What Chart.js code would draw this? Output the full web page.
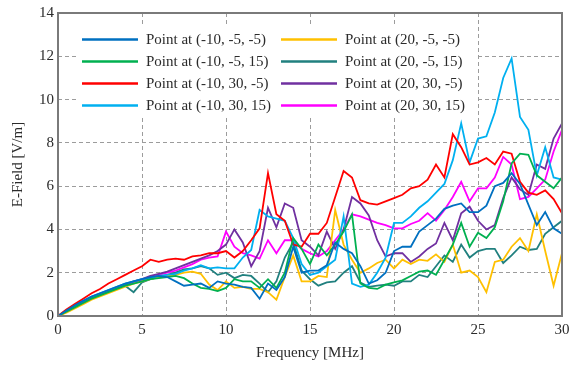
<!DOCTYPE html>
<html>
<head>
<meta charset="utf-8">
<script src="https://cdn.jsdelivr.net/npm/chart.js@4.4.0/dist/chart.umd.min.js"></script>
<style>
  html, body { margin: 0; padding: 0; background: #fff; }
  #wrap { width: 576px; height: 366px; }
</style>
</head>
<body>
<div id="wrap"><canvas id="chart" width="576" height="366"></canvas></div>
<script>
(function () {
    "use strict";

    // frequency grid, MHz
    const freqs = [0, 0.5, 1, 1.5, 2, 2.5, 3, 3.5, 4, 4.5, 5, 5.5, 6, 6.5, 7, 7.5, 8, 8.5, 9, 9.5,
        10, 10.5, 11, 11.5, 12, 12.5, 13, 13.5, 14, 14.5, 15, 15.5, 16, 16.5, 17, 17.5, 18, 18.5, 19, 19.5,
        20, 20.5, 21, 21.5, 22, 22.5, 23, 23.5, 24, 24.5, 25, 25.5, 26, 26.5, 27, 27.5, 28, 28.5, 29, 29.5, 30];

    const xTicks = [0, 5, 10, 15, 20, 25, 30];
    const yTicks = [0, 2, 4, 6, 8, 10, 12, 14];

    // E-field values [V/m] per point
    const p1 = [0, 0.25, 0.5, 0.7, 0.9, 1.05, 1.2, 1.35, 1.5, 1.6, 1.7, 1.8, 1.85, 1.8, 1.6, 1.4, 1.45, 1.5, 1.3, 1.6,
        1.5, 1.45, 1.35, 1.3, 0.8, 1.5, 1.2, 1.8, 3.2, 2.0, 2.1, 2.1, 2.35, 3.4, 3.1, 2.9, 2.3, 1.5, 1.65, 2.0,
        3.0, 3.2, 3.2, 3.9, 4.2, 4.5, 4.95, 5.1, 5.2, 4.8, 4.8, 5.1, 6.0, 6.15, 6.6, 6.1, 5.15, 4.2, 4.8, 4.05, 3.8];
    const p2 = [0, 0.2, 0.4, 0.6, 0.8, 0.95, 1.1, 1.25, 1.4, 1.5, 1.6, 1.7, 1.75, 1.8, 1.85, 1.75, 1.5, 1.3, 1.25, 1.15,
        1.3, 1.7, 1.6, 1.6, 1.3, 1.7, 1.3, 2.0, 3.6, 3.1, 2.4, 3.3, 2.8, 3.3, 3.9, 4.7, 1.5, 1.3, 1.25, 1.45,
        1.55, 1.65, 1.85, 2.05, 2.1, 1.9, 2.6, 3.3, 4.3, 3.2, 3.85, 3.6, 4.1, 5.3, 7.05, 7.5, 7.45, 6.5, 6.2, 5.9, 6.4];
    const p3 = [0, 0.3, 0.55, 0.8, 1.05, 1.25, 1.5, 1.7, 1.9, 2.1, 2.3, 2.6, 2.5, 2.6, 2.65, 2.6, 2.75, 2.8, 2.9, 2.9,
        3.0, 2.7, 3.0, 3.5, 4.05, 6.6, 4.7, 4.4, 3.3, 3.2, 3.8, 3.8, 4.3, 5.5, 6.7, 6.4, 5.35, 5.2, 5.15, 5.3,
        5.45, 5.6, 5.9, 6.0, 6.3, 7.0, 6.4, 8.4, 7.8, 7.0, 7.1, 7.3, 7.0, 7.6, 7.5, 6.2, 5.7, 5.6, 5.8, 5.4, 4.75];
    const p4 = [0, 0.25, 0.5, 0.7, 0.9, 1.05, 1.2, 1.35, 1.5, 1.6, 1.7, 1.75, 1.85, 1.9, 1.95, 2.1, 2.2, 2.35, 2.2, 2.25,
        2.2, 2.2, 2.7, 3.05, 4.9, 4.6, 4.5, 4.4, 3.6, 2.4, 1.9, 2.0, 2.3, 2.6, 4.6, 1.5, 1.35, 1.45, 2.0, 2.7,
        4.3, 4.3, 4.6, 5.0, 5.3, 5.7, 6.1, 7.2, 8.9, 7.1, 8.2, 8.3, 9.4, 11.0, 11.9, 9.2, 8.6, 6.5, 7.8, 6.4, 6.3];
    const p5 = [0, 0.15, 0.35, 0.55, 0.75, 0.9, 1.05, 1.2, 1.35, 1.5, 1.6, 1.7, 1.8, 1.85, 1.9, 2.0, 2.05, 1.95, 1.45, 1.2,
        1.6, 1.3, 1.35, 1.25, 1.25, 1.1, 0.75, 1.8, 2.8, 1.6, 1.6, 1.85, 1.8, 4.9, 3.3, 2.6, 2.0, 2.2, 2.45, 2.6,
        2.2, 2.6, 2.4, 2.6, 2.55, 2.85, 2.5, 3.3, 2.0, 2.1, 1.8, 1.1, 2.5, 2.6, 3.2, 3.6, 3.0, 4.7, 3.0, 1.4, 2.9];
    const p6 = [0, 0.2, 0.4, 0.6, 0.8, 0.95, 1.1, 1.25, 1.4, 1.1, 1.55, 1.7, 1.8, 1.9, 2.0, 2.15, 2.2, 2.3, 2.2, 1.9,
        2.0, 1.75, 1.9, 1.85, 1.5, 1.1, 1.6, 2.7, 3.4, 2.1, 1.7, 1.4, 1.55, 1.6, 2.0, 2.3, 1.55, 1.35, 1.4, 1.45,
        1.4, 1.6, 1.6, 1.9, 1.8, 2.3, 2.8, 2.5, 3.3, 2.7, 3.0, 3.1, 3.1, 2.45, 2.8, 3.2, 3.05, 3.1, 3.8, 4.1, 4.4];
    const p7 = [0, 0.2, 0.45, 0.65, 0.85, 1.0, 1.15, 1.3, 1.45, 1.6, 1.7, 1.85, 1.95, 2.05, 2.2, 2.35, 2.5, 2.65, 2.8, 3.0,
        3.3, 4.0, 3.4, 2.3, 3.0, 5.0, 4.1, 5.2, 5.0, 3.5, 3.2, 2.8, 3.9, 3.1, 4.0, 5.5, 5.2, 4.65, 3.5, 2.75,
        2.9, 2.9, 2.5, 2.75, 3.1, 3.35, 4.3, 3.5, 4.75, 5.05, 4.4, 4.0, 4.2, 5.45, 6.4, 5.85, 5.6, 7.0, 6.8, 8.2, 8.9];
    const p8 = [0, 0.2, 0.45, 0.65, 0.85, 1.0, 1.15, 1.3, 1.45, 1.55, 1.65, 1.8, 1.9, 2.0, 2.1, 2.25, 2.4, 2.6, 2.7, 2.75,
        3.9, 3.2, 2.9, 2.8, 2.65, 3.5, 2.9, 3.5, 3.5, 3.1, 2.9, 2.75, 3.0, 3.5, 4.0, 4.7, 4.6, 4.45, 4.3, 4.2,
        4.05, 4.05, 4.25, 4.4, 4.75, 4.4, 4.9, 5.5, 6.2, 5.3, 5.9, 5.9, 6.4, 7.35, 7.0, 5.4, 5.5, 5.9, 6.3, 7.6, 8.6];

    const names = ["Point at (-10, -5, -5)", "Point at (-10, -5, 15)", "Point at (-10, 30, -5)", "Point at (-10, 30, 15)",
        "Point at (20, -5, -5)", "Point at (20, -5, 15)", "Point at (20, 30, -5)", "Point at (20, 30, 15)"];
    const colors = ["#0070C0", "#00B050", "#FF0000", "#00B0F0", "#FFC000", "#21807F", "#7030A0", "#FF00FF"];
    const series = [p1, p2, p3, p4, p5, p6, p7, p8];

    const FONT = "'Liberation Serif', 'Times New Roman', serif";
    const textColor = "#2b2b2b";
    const gridColor = "#9c9c9c";

    // legend drawn inside the plot, two columns
    const boxLegend = {
        id: "boxLegend",
        afterDatasetsDraw(chart) {
            const { ctx, chartArea: a } = chart;
            ctx.save();
            ctx.fillStyle = "#fff";
            ctx.fillRect(a.left + 18, a.top + 14, 400, 90);
            ctx.font = "15px " + FONT;
            ctx.textBaseline = "middle";
            ctx.fillStyle = textColor;
            names.forEach((name, i) => {
                const col = Math.floor(i / 4), row = i % 4;
                const x0 = a.left + (col ? 223 : 24);
                const y = a.top + 26.5 + row * 22;
                ctx.strokeStyle = colors[i];
                ctx.lineWidth = 2.5;
                ctx.beginPath();
                ctx.moveTo(x0, y);
                ctx.lineTo(x0 + 56, y);
                ctx.stroke();
                ctx.fillText(name, x0 + 64, y + 1);
            });
            ctx.restore();
        },
        afterDraw(chart) {
            const { ctx, chartArea: a } = chart;
            ctx.save();
            ctx.strokeStyle = "#7a7a7a";
            ctx.lineWidth = 2;
            ctx.strokeRect(a.left, a.top, a.right - a.left, a.bottom - a.top);
            ctx.restore();
        },
    };

    new Chart(document.getElementById("chart"), {
        type: "line",
        data: {
            datasets: series.map((vals, i) => ({
                label: names[i],
                data: vals.map((v, j) => ({ x: freqs[j], y: v })),
                borderColor: colors[i],
                backgroundColor: colors[i],
                borderWidth: 1.8,
                pointRadius: 0,
                tension: 0,
                fill: false,
            })),
        },
        options: {
            responsive: false,
            animation: false,
            layout: { padding: { top: 12, right: 14, left: 0, bottom: 0 } },
            plugins: { legend: { display: false }, tooltip: { enabled: false } },
            scales: {
                x: {
                    type: "linear",
                    min: 0, max: 30,
                    afterBuildTicks: (s) => { s.ticks = xTicks.map((v) => ({ value: v })); },
                    afterFit: (s) => { s.height = 50; },
                    grid: { color: gridColor, drawTicks: false },
                    border: { display: false, dash: [4, 3] },
                    ticks: { color: textColor, font: { family: FONT, size: 15 }, padding: 5, maxRotation: 0 },
                    title: { display: true, text: "Frequency [MHz]", color: textColor, font: { family: FONT, size: 15 }, padding: { top: 0, bottom: 4 } },
                },
                y: {
                    min: 0, max: 14,
                    afterBuildTicks: (s) => { s.ticks = yTicks.map((v) => ({ value: v })); },
                    afterFit: (s) => { s.width = 58; },
                    grid: { color: gridColor, drawTicks: false },
                    border: { display: false, dash: [4, 3] },
                    ticks: { color: textColor, font: { family: FONT, size: 15 }, padding: 4 },
                    title: { display: true, text: "E-Field [V/m]", color: textColor, font: { family: FONT, size: 15 }, padding: { top: 9, bottom: 0 } },
                },
            },
        },
        plugins: [boxLegend],
    });
})();
</script>
</body>
</html>
